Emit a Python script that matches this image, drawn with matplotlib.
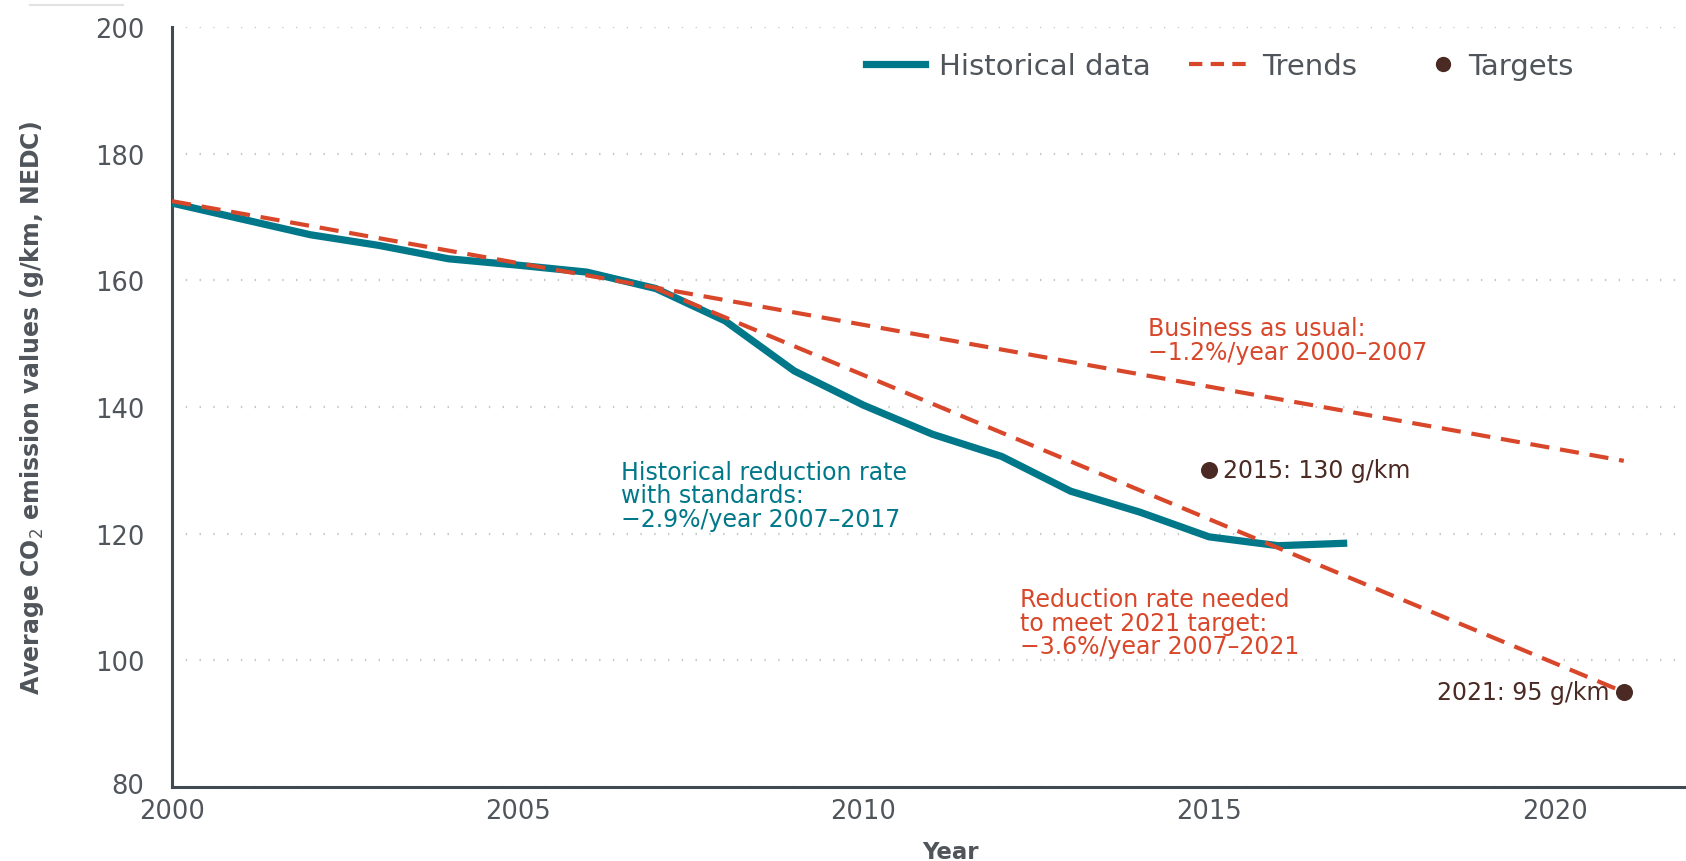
import matplotlib
matplotlib.use("Agg")
import matplotlib.pyplot as plt
from matplotlib.lines import Line2D
from matplotlib.legend_handler import HandlerLine2D
from matplotlib.transforms import ScaledTranslation

# ---- data ----
years = [2000, 2001, 2002, 2003, 2004, 2005, 2006, 2007, 2008, 2009,
         2010, 2011, 2012, 2013, 2014, 2015, 2016, 2017]
historical = [172.2, 169.7, 167.2, 165.5, 163.4, 162.4, 161.3, 158.7, 153.6, 145.7,
              140.3, 135.7, 132.2, 126.7, 123.4, 119.5, 118.1, 118.5]

bau_years = [2000, 2021]
bau_values = [172.5, 131.5]

needed_years = [2007, 2021]
needed_values = [158.7, 95.0]

target_years = [2015, 2021]
target_values = [130, 95]
target_labels = ["2015: 130 g/km", "2021: 95 g/km"]

xticks = [2000, 2005, 2010, 2015, 2020]
yticks = [80, 100, 120, 140, 160, 180, 200]

TEAL = "#00788a"
ORANGE = "#d9472b"
BROWN = "#4a2a22"
AXC = "#414a52"
TXT = "#4f555b"

plt.rcParams['font.family'] = ['DejaVu Sans']

fig = plt.figure(figsize=(16.86, 8.62), dpi=100)
ax = fig.add_axes([172 / 1686, 1 - 788 / 862, 1 - 172 / 1686, (788 - 28) / 862])

# grid
for yv in yticks:
    ax.axhline(yv, color="#c4c4c4", lw=1.6, ls=(0, (0.6, 5.6)), zorder=0)

DASH = (0, (4.6, 2.6))
ax.plot(years, historical, color=TEAL, lw=5.2, solid_capstyle='butt',
        solid_joinstyle='round', zorder=3)
ax.plot(bau_years, bau_values, color=ORANGE, lw=3.0, ls=DASH, zorder=4)
ax.plot(needed_years, needed_values, color=ORANGE, lw=3.0, ls=DASH, zorder=4)
ax.scatter(target_years, target_values, s=150, color=BROWN, zorder=5, linewidths=0)

ax.set_xlim(2000, 2021.9)
ax.set_ylim(80, 200)
ax.set_xticks(xticks)
ax.set_yticks(yticks)
ax.tick_params(length=0, labelsize=18.5, colors=TXT, labelcolor=TXT)
ax.tick_params(axis='y', pad=20)
ax.tick_params(axis='x', pad=8)
# nudge the lowest y label up a little, as in the reference
ylabs = ax.get_yticklabels()
ylabs[0].set_transform(ylabs[0].get_transform() + ScaledTranslation(0, 4 / 100, fig.dpi_scale_trans))

for s in ['top', 'right']:
    ax.spines[s].set_visible(False)
for s in ['left', 'bottom']:
    ax.spines[s].set_color(AXC)
    ax.spines[s].set_linewidth(2.2)

ax.set_ylabel("Average CO$_2$ emission values (g/km, NEDC)", fontsize=17,
              fontweight='bold', color=TXT, va='center')
ax.yaxis.set_label_coords(-0.0925, 0.5)
ax.set_xlabel("Year", fontsize=16.5, fontweight='bold', color=TXT, va='center')
ax.xaxis.set_label_coords(0.514, -0.0855)

# annotations
FS = 17
LS = 0.99
ax.text(2006.5, 131.7, "Historical reduction rate\nwith standards:\n\u22122.9%/year 2007\u20132017",
        color=TEAL, fontsize=FS, va='top', ha='left', linespacing=LS)
ax.text(2014.12, 154.4, "Business as usual:\n\u22121.2%/year 2000\u20132007",
        color=ORANGE, fontsize=FS, va='top', ha='left', linespacing=LS)
ax.text(2012.26, 111.6, "Reduction rate needed\nto meet 2021 target:\n\u22123.6%/year 2007\u20132021",
        color=ORANGE, fontsize=FS, va='top', ha='left', linespacing=LS)
ax.text(2015.2, target_values[0], target_labels[0], color=BROWN, fontsize=FS,
        va='center', ha='left')
ax.text(2020.8, target_values[1], target_labels[1], color=BROWN, fontsize=FS,
        va='center', ha='right')


class RightMarkerHandler(HandlerLine2D):
    """Place the single legend marker near the right end of the handle box."""
    def get_xdata(self, legend, xdescent, ydescent, width, height, fontsize):
        xdata = [-xdescent + width - 14, -xdescent + width]
        xdata_marker = [-xdescent + width - 7]
        return xdata, xdata_marker


handles = [Line2D([0], [0], color=TEAL, lw=5.2),
           Line2D([0], [0], color=ORANGE, lw=3.0, ls=(0, (3.2, 2.0))),
           Line2D([0], [0], marker='o', color=BROWN, lw=0, markersize=10)]
leg = ax.legend(handles, ["Historical data", "Trends", "Targets"], ncol=3,
                loc='center', bbox_to_anchor=(0.692, 0.949), frameon=False,
                fontsize=21, handlelength=2.0, handletextpad=0.5, columnspacing=1.3,
                handler_map={handles[2]: RightMarkerHandler(numpoints=1)})
for t in leg.get_texts():
    t.set_color(TXT)

# thin grey bar at the top-left corner
fig.add_artist(Line2D([30 / 1686, 123 / 1686], [1 - 6 / 862, 1 - 6 / 862],
                      color="#e2e2e2", lw=1.5, transform=fig.transFigure))

fig.savefig("out.png", dpi=100)
